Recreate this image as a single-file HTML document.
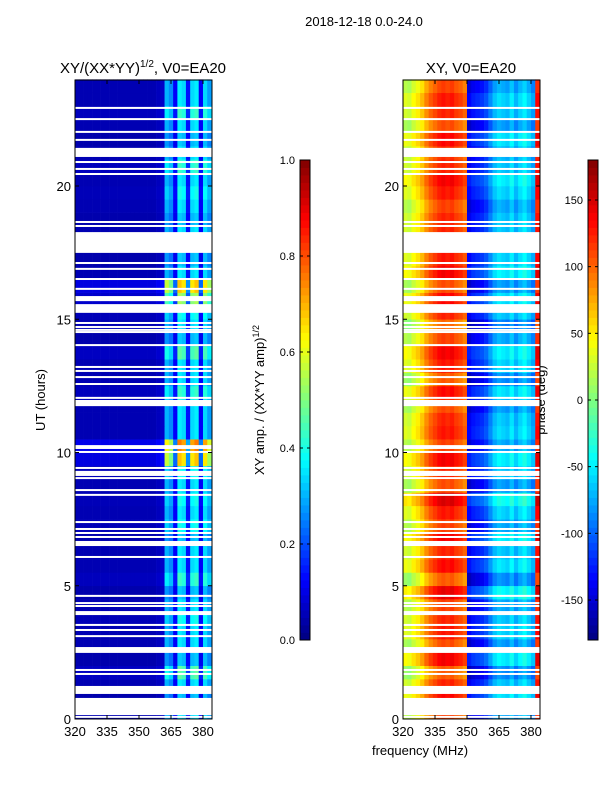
<!DOCTYPE html>
<html><head><meta charset="utf-8"><style>
body{margin:0;background:#fff;}
svg text{font-family:"Liberation Sans",sans-serif;fill:#000;}
</style></head><body>
<svg id="fig" width="600" height="800" xmlns="http://www.w3.org/2000/svg">
<rect width="600" height="800" fill="#fff"/>
<text x="364" y="26" font-size="13" text-anchor="middle">2018-12-18 0.0-24.0</text>
<text x="143" y="73" font-size="15" text-anchor="middle">XY/(XX*YY)<tspan font-size="10" dy="-6">1/2</tspan><tspan dy="6">, V0=EA20</tspan></text>
<text x="471" y="73" font-size="15" text-anchor="middle">XY, V0=EA20</text>
<text transform="translate(45,400) rotate(-90)" font-size="13" text-anchor="middle">UT (hours)</text>
<text x="420" y="755" font-size="13" text-anchor="middle">frequency (MHz)</text>
<text transform="translate(264,400) rotate(-90)" font-size="13" text-anchor="middle">XY amp. / (XX*YY amp)<tspan font-size="9" dy="-5">1/2</tspan></text>
<text transform="translate(545,400) rotate(-90)" font-size="13" text-anchor="middle">phase (deg)</text>
<g id="left"></g><g id="right"></g><g id="cb"></g>
</svg>
<script>
const freqs=[320,322,324,326,328,330,332,334,336,338,340,342,344,346,348,350,352,354,356,358,360,362,364,366,368,370,372,374,376,378,380,382];
const ampProfile=[0.05,0.05,0.05,0.05,0.05,0.05,0.05,0.05,0.05,0.05,0.05,0.05,0.05,0.05,0.05,0.05,0.05,0.05,0.05,0.06,0.07,0.3,0.26,0.12,0.36,0.34,0.14,0.34,0.36,0.12,0.34,0.28];
const ampRow=[1,0.9,1,1.3,0.9,1,1,1.1,1,0.9,1.2,1,1,0.9,1.1,1,1.1,1,1.1,1.9,2.1,1,1,1,1.2,1,1,1.3,0.9,1,1.1,1.5,1.9,1,0.9,1,1,0.9,1,1.1,1,1.2,1,0.9,1,1.2,1,1];
const phaseProfile=[30,25,40,50,65,85,100,110,120,125,120,125,115,110,100,-140,-130,-125,-120,-110,-90,-70,-60,-65,-70,-55,-75,-60,-50,-65,-80,130];
const phaseRow=[-10,10,0,-20,15,-15,5,0,-10,20,-20,10,0,15,-10,5,25,-15,0,15,-10,5,0,-15,10,-20,5,15,-10,-25,0,10,-15,15,5,0,0,0,-10,5,15,0,-5,10,-15,0,5,-10];
const thinGaps=[22.93,22.51,22.03,21.73,20.90,20.64,20.45,18.65,18.50,17.11,16.89,16.51,16.14,15.53,14.86,14.71,14.60,14.52,14.03,13.21,13.06,12.83,12.57,12.05,10.24,10.17,10.02,9.42,9.04,8.59,8.41,7.39,7.13,6.98,6.83,6.08,4.62,4.35,4.24,3.53,3.34,3.11,1.84,1.69,0.08];
const blockTop=[21.43,18.27,15.87,15.50,11.97,9.31,6.68,4.05,2.70,1.24,0.79];
const blockBot=[21.09,17.49,15.68,15.24,11.74,9.12,6.49,3.90,2.48,0.94,0.15];
const xTicks=[320,335,350,365,380];
const yTicks=[0,5,10,15,20];
const ampTicks=[0.0,0.2,0.4,0.6,0.8,1.0];
const phaseTicks=[-150,-100,-50,0,50,100,150];

const NS="http://www.w3.org/2000/svg";
function mk(t,a,p){const e=document.createElementNS(NS,t);for(const k in a)e.setAttribute(k,a[k]);p.appendChild(e);return e;}
function jet(v){v=Math.max(0,Math.min(1,v));
 const r=Math.max(0,Math.min(1,1.5-Math.abs(4*v-3))),g=Math.max(0,Math.min(1,1.5-Math.abs(4*v-2))),b=Math.max(0,Math.min(1,1.5-Math.abs(4*v-1)));
 return `rgb(${Math.round(r*255)},${Math.round(g*255)},${Math.round(b*255)})`;}
const Y0=719,PH=26.65;
function yH(h){return Y0-h*PH;}
function xF(x0){return f=>x0+(f-320)*2.133;}
function panel(gid,x0,val,name){
 const g=document.getElementById(gid), x=xF(x0);
 const rowH=0.5;
 for(let r=0;r<ampRow.length;r++)for(let c=0;c<freqs.length;c++){
  const el=mk('rect',{x:x(freqs[c]),y:yH((r+1)*rowH),width:2*2.133+0.3,height:rowH*PH+0.3,fill:jet(val(r,c))},g);
  
  
 }
 const W=137;
 thinGaps.forEach(h=>{const e=mk('rect',{x:x0,y:yH(h)-1,width:W,height:2,fill:'#fff'},g);
  });
 blockTop.forEach((t,i)=>{const e=mk('rect',{x:x0,y:yH(t),width:W,height:(t-blockBot[i])*PH,fill:'#fff'},g);
  });
 const fr=mk('rect',{x:x0,y:80,width:W,height:639,fill:'none',stroke:'#000','stroke-width':1},g);
 
 xTicks.forEach(f=>{mk('line',{x1:x(f),x2:x(f),y1:719,y2:715,stroke:'#000'},g);mk('line',{x1:x(f),x2:x(f),y1:80,y2:84,stroke:'#000'},g);
  const t=mk('text',{x:x(f),y:736,'font-size':13,'text-anchor':'middle'},g);t.textContent=f;
  });
 yTicks.forEach(h=>{mk('line',{x1:x0,x2:x0+4,y1:yH(h),y2:yH(h),stroke:'#000'},g);mk('line',{x1:x0+W,x2:x0+W-4,y1:yH(h),y2:yH(h),stroke:'#000'},g);
  const t=mk('text',{x:x0-4,y:yH(h)+5,'font-size':13,'text-anchor':'end'},g);t.textContent=h;
  });
}
panel('left',75,(r,c)=>ampProfile[c]*ampRow[r],'amp');
panel('right',403,(r,c)=>{let p=phaseProfile[c]+phaseRow[r];p=((p+180)%360+360)%360-180;return (p+180)/360;},'phase');
const cb=document.getElementById('cb');
function colorbar(x0,lo,hi,ticks,labelRight,name){
 const N=64;
 for(let i=0;i<N;i++){const e=mk('rect',{x:x0,y:160+480*(N-1-i)/N,width:10,height:480/N+0.4,fill:jet((i+0.5)/N)},cb);
  }
 const fr=mk('rect',{x:x0,y:160,width:10,height:480,fill:'none',stroke:'#000'},cb);
 
 ticks.forEach(v=>{const y=640-(v-lo)/(hi-lo)*480;
  mk('line',{x1:x0,x2:x0+3,y1:y,y2:y,stroke:'#000'},cb);mk('line',{x1:x0+10,x2:x0+7,y1:y,y2:y,stroke:'#000'},cb);
  const t=mk('text',{x:x0-5,y:y+4,'font-size':11,'text-anchor':'end'},cb);t.textContent=labelRight?v:v.toFixed(1);
  });
}
colorbar(300,0,1,ampTicks,false,'amp-colorbar');
colorbar(588,-180,180,phaseTicks,true,'phase-colorbar');
</script>
</body></html>
